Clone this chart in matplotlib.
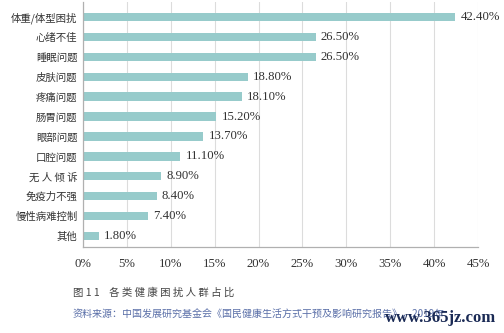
import matplotlib.pyplot as plt
import numpy as np

plt.rcParams['font.family'] = ['Noto Sans CJK SC', 'DejaVu Sans']

# health issue categories and share of people (%)
categories = ['体重/体型困扰', '心绪不佳', '睡眠问题', '皮肤问题', '疼痛问题', '肠胃问题',
              '眼部问题', '口腔问题', '无 人 倾 诉', '免疫力不强', '慢性病难控制', '其他']
values = [42.4, 26.5, 26.5, 18.8, 18.1, 15.2, 13.7, 11.1, 8.9, 8.4, 7.4, 1.8]
xticks = [0, 5, 10, 15, 20, 25, 30, 35, 40, 45]

bar_color = '#97cbcb'
grid_color = '#dcdcdc'
num_font = ['Liberation Serif', 'DejaVu Serif']

fig = plt.figure(figsize=(5.04, 3.33), dpi=100)
ax = fig.add_axes([83 / 504, 1 - 247 / 333, (478 - 83) / 504, 245 / 333])

y = np.arange(len(categories))
ax.barh(y, values, height=0.42, color=bar_color, zorder=2)
for yi, v in zip(y, values):
    ax.text(v + 0.6, yi, f'{v:.2f}%', va='center', ha='left', fontsize=9.2,
            color='#333333', family=num_font)

ax.set_ylim(len(categories) - 0.45, -0.75)
ax.set_xlim(0, 45)
ax.set_yticks(y)
ax.set_yticklabels(categories, fontsize=7.5, color='#333333')
ax.set_xticks(xticks)
ax.set_xticklabels([f'{t}%' for t in xticks], fontsize=9.2, color='#333333', family=num_font)
ax.tick_params(axis='y', length=0, pad=4)
ax.tick_params(axis='x', length=0, pad=8)
ax.grid(axis='x', color=grid_color, linewidth=0.8, zorder=0)
for side in ['top', 'right']:
    ax.spines[side].set_visible(False)
for side in ['left', 'bottom']:
    ax.spines[side].set_color('#b0b0b0')
    ax.spines[side].set_linewidth(0.9)

fig.text(73 / 504, 1 - 293 / 333, '图 1 1    各 类 健 康 困 扰 人 群 占 比', fontsize=7.5,
         color='#444444', va='center', ha='left')
fig.text(73 / 504, 1 - 315 / 333,
         '资料来源：中国发展研究基金会《国民健康生活方式干预及影响研究报告》，2019年',
         fontsize=7.2, color='#5a6fa8', va='center', ha='left')
fig.text(496 / 504, 1 - 318 / 333, 'www.365jz.com', fontsize=12, color='#1a2a55',
         va='center', ha='right', family=num_font, fontweight='bold')

fig.savefig('out.png', dpi=100, facecolor='white')
